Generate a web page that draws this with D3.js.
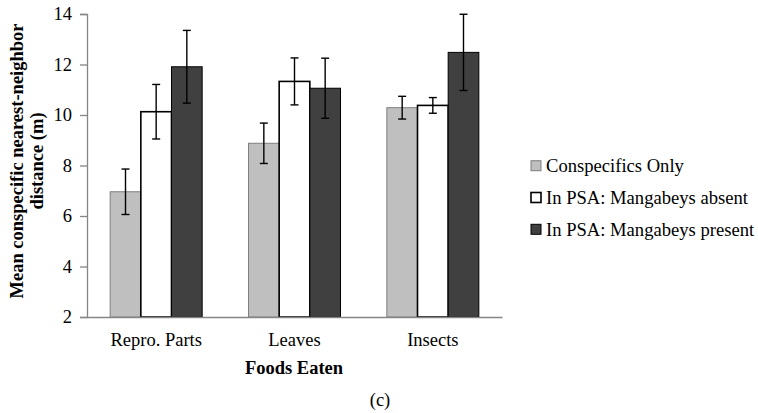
<!DOCTYPE html>
<html>
<head>
<meta charset="utf-8">
<script src="https://cdn.jsdelivr.net/npm/d3@7"></script>
<style>
  body { margin: 0; background: #fff; }
  svg { display: block; }
  svg text { font-family: "Liberation Serif", "Times New Roman", serif; }
</style>
</head>
<body>
<svg width="758" height="413"></svg>
<script>
// data
const foods = ["Repro. Parts", "Leaves", "Insects"];
const groups = ["Conspecifics Only", "In PSA: Mangabeys absent", "In PSA: Mangabeys present"];
const conspecificsOnly = [6.96, 8.88, 10.29];
const mangabeysAbsent = [10.13, 11.33, 10.38];
const mangabeysPresent = [11.91, 11.06, 12.48];
const errConspecifics = [0.9, 0.8, 0.45];
const errAbsent = [1.08, 0.93, 0.31];
const errPresent = [1.44, 1.19, 1.51];
const yTicks = [2, 4, 6, 8, 10, 12, 14];

const svg = d3.select("svg");
const serif = "Liberation Serif, Times New Roman, serif";
const fs = 18.5;

// plot area
const plotLeft = 87, plotRight = 502, plotTop = 14, plotBottom = 317;

const fills = ["#bfbfbf", "#ffffff", "#404040"];
const strokes = ["#7f7f7f", "#000000", "#000000"];
const strokeW = [1, 1.6, 1];

const values = [conspecificsOnly, mangabeysAbsent, mangabeysPresent];
const errs = [errConspecifics, errAbsent, errPresent];

const rows = [];
foods.forEach((f, i) => {
  groups.forEach((g, j) => {
    rows.push({ food: f, group: g, gi: j, value: values[j][i], err: errs[j][i] });
  });
});

const x0 = d3.scaleBand().domain(foods).range([plotLeft, plotRight]).paddingInner(0.335).paddingOuter(0.1675);
const x1 = d3.scaleBand().domain(groups).range([0, x0.bandwidth()]);
const y = d3.scaleLinear().domain([2, 14]).range([plotBottom, plotTop]);

// bars
svg.append("g").selectAll("rect")
  .data(rows).enter().append("rect")
  .attr("x", d => x0(d.food) + x1(d.group))
  .attr("y", d => y(d.value))
  .attr("width", x1.bandwidth())
  .attr("height", d => plotBottom - y(d.value))
  .attr("fill", d => fills[d.gi])
  .attr("stroke", d => strokes[d.gi])
  .attr("stroke-width", d => strokeW[d.gi]);

// axes
const yAxis = svg.append("g")
  .attr("transform", `translate(${plotLeft},0)`)
  .call(d3.axisLeft(y).tickValues(yTicks).tickSize(7).tickPadding(8));
yAxis.attr("font-family", serif).attr("font-size", fs);
yAxis.select(".domain").attr("stroke", "#868686").attr("stroke-width", 1.3);
yAxis.selectAll(".tick line").attr("stroke", "#868686").attr("stroke-width", 1.3);
yAxis.selectAll(".tick text").attr("fill", "#000");

const xAxis = svg.append("g")
  .attr("transform", `translate(0,${plotBottom})`)
  .call(d3.axisBottom(x0).tickSize(0).tickPadding(16));
xAxis.attr("font-family", serif).attr("font-size", fs);
xAxis.select(".domain").attr("stroke", "#868686").attr("stroke-width", 1.5);
xAxis.selectAll(".tick text").attr("fill", "#000");

// error bars
const eb = svg.append("g").attr("stroke", "#000").attr("stroke-width", 1.4);
rows.forEach(d => {
  const cx = x0(d.food) + x1(d.group) + x1.bandwidth() / 2;
  eb.append("line").attr("x1", cx).attr("x2", cx).attr("y1", y(d.value + d.err)).attr("y2", y(d.value - d.err));
  eb.append("line").attr("x1", cx - 4).attr("x2", cx + 4).attr("y1", y(d.value + d.err)).attr("y2", y(d.value + d.err));
  eb.append("line").attr("x1", cx - 4).attr("x2", cx + 4).attr("y1", y(d.value - d.err)).attr("y2", y(d.value - d.err));
});

// axis titles
const yTitle = svg.append("text")
  .attr("transform", "translate(23,161) rotate(-90)")
  .attr("text-anchor", "middle")
  .attr("font-family", serif)
  .attr("font-weight", "bold")
  .attr("font-size", fs);
yTitle.append("tspan").attr("x", 0).attr("dy", 0).text("Mean conspecific nearest-neighbor");
yTitle.append("tspan").attr("x", 0).attr("dy", 20).text("distance (m)");

svg.append("text").attr("x", 294).attr("y", 374)
  .attr("text-anchor", "middle").attr("font-family", serif)
  .attr("font-weight", "bold").attr("font-size", fs)
  .text("Foods Eaten");

svg.append("text").attr("x", 380).attr("y", 406)
  .attr("text-anchor", "middle").attr("font-family", serif).attr("font-size", fs)
  .text("(c)");

// legend
const legend = svg.append("g").attr("transform", "translate(531,0)");
const legY = d3.scalePoint().domain(groups).range([165.7, 229.3]);
groups.forEach((g, j) => {
  legend.append("rect")
    .attr("x", 0).attr("y", legY(g) - 5)
    .attr("width", 10).attr("height", 10)
    .attr("fill", fills[j]).attr("stroke", strokes[j]).attr("stroke-width", strokeW[j]);
  legend.append("text")
    .attr("x", 15).attr("y", legY(g)).attr("dy", "0.35em")
    .attr("font-family", serif)
    .attr("font-size", 18.6)
    .text(g);
});
</script>
</body>
</html>
